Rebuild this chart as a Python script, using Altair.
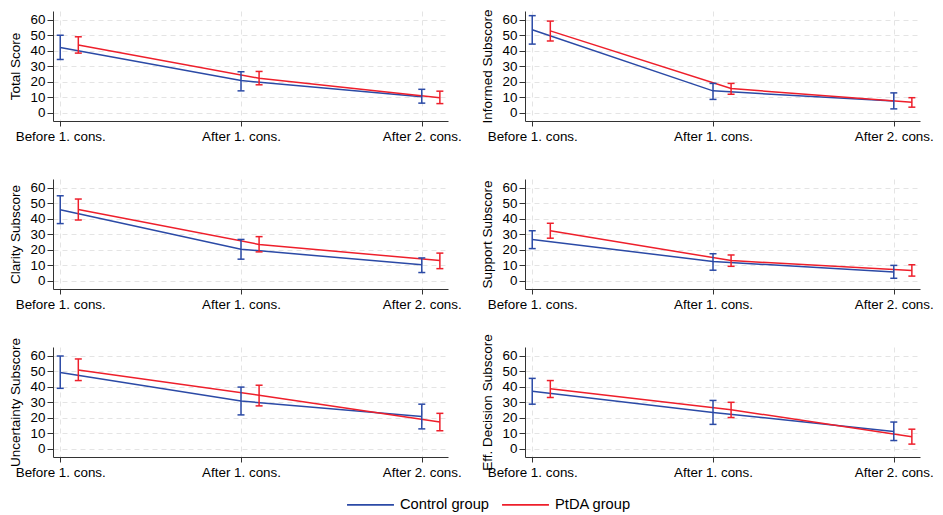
import altair as alt
import pandas as pd

# ---- data ----
panels = ["Total Score", "Informed Subscore", "Clarity Subscore",
          "Support Subscore", "Uncertainty Subscore", "Eff. Decision Subscore"]
groups = ["Control group", "PtDA group"]
time_labels = ["Before 1. cons.", "After 1. cons.", "After 2. cons."]
y_ticks = [0, 10, 20, 30, 40, 50, 60]

control_mean = [[42.1, 20.8, 10.4], [53.5, 14.2, 7.6], [45.8, 20.4, 10.4],
                [26.7, 12.5, 5.8], [49.2, 30.8, 20.8], [37.1, 23.5, 11.2]]
control_lo = [[34.4, 14.2, 6.3], [44.3, 8.7, 2.6], [36.9, 14.0, 5.4],
              [20.8, 6.9, 1.7], [39.0, 21.9, 12.9], [28.8, 15.8, 5.4]]
control_hi = [[50.0, 26.5, 15.2], [62.6, 19.0, 12.9], [54.8, 26.7, 14.8],
              [32.3, 17.5, 10.0], [59.8, 39.8, 28.8], [45.4, 31.2, 17.3]]

ptda_mean = [[43.7, 22.3, 9.8], [52.8, 15.7, 6.8], [46.0, 23.5, 13.1],
             [32.3, 13.1, 6.7], [50.8, 34.6, 17.3], [38.7, 25.2, 7.9]]
ptda_lo = [[38.5, 18.1, 6.0], [46.3, 12.0, 3.7], [39.2, 18.7, 7.9],
           [27.5, 9.4, 3.1], [44.0, 27.7, 11.7], [33.1, 20.2, 3.1]]
ptda_hi = [[49.0, 26.7, 14.0], [59.1, 19.0, 9.8], [52.7, 28.5, 17.9],
           [37.1, 16.7, 10.4], [57.9, 41.0, 22.9], [44.0, 30.0, 12.7]]

colors = ["#2b4aa6", "#ee1f2b"]
dodge = [0.0, 0.1]

rows = []
for p, name in enumerate(panels):
    for g, (m, lo, hi) in enumerate([(control_mean, control_lo, control_hi),
                                     (ptda_mean, ptda_lo, ptda_hi)]):
        for t in range(3):
            rows.append({"panel": name, "group": groups[g], "t": t + dodge[g],
                         "mean": m[p][t], "lo": lo[p][t], "hi": hi[p][t]})
df = pd.DataFrame(rows)

FONT = "Liberation Sans"
label_expr = "[" + ",".join("'%s'" % s for s in time_labels) + "][datum.value]"

xscale = alt.Scale(domain=[-0.04, 2.145], nice=False, zero=False)
yscale = alt.Scale(domain=[-5.2, 65.6], nice=False, zero=False)
cscale = alt.Scale(domain=groups, range=colors)

W, H = 395, 110

legend = alt.Legend(title=None, orient="none", legendX=293, legendY=469,
                    direction="horizontal", padding=0,
                    symbolType="stroke", symbolSize=2200,
                    symbolStrokeWidth=1.8,
                    labelFontSize=14.7, labelFont=FONT,
                    labelColor="#000000",
                    labelOffset=5, columnPadding=9)


def panel(name):
    base = alt.Chart(df[df.panel == name])
    x_axis = alt.Axis(values=[0, 1, 2], labelExpr=label_expr, title=None,
                      grid=True, tickSize=5, labelPadding=3,
                      labelOverlap=False)
    y_axis = alt.Axis(values=y_ticks, title=name, tickCount=7,
                      grid=True, tickSize=6, labelPadding=2, titlePadding=8,
                      labelOverlap=False)
    x = alt.X("t:Q", scale=xscale, axis=x_axis)
    color = alt.Color("group:N", scale=cscale, legend=legend)

    def y(field):
        return alt.Y(field, type="quantitative", scale=yscale, axis=y_axis)

    line = base.mark_line(strokeWidth=1.5).encode(
        x=x, y=y("mean"), color=color)
    bar = base.mark_rule(strokeWidth=1.5).encode(
        x=x, y=y("lo"), y2="hi:Q", color=color)
    cap_hi = base.mark_rule(strokeWidth=1.5, xOffset=-3.5, x2Offset=3.5).encode(
        x=x, x2="t:Q", y=y("hi"), color=color)
    cap_lo = base.mark_rule(strokeWidth=1.5, xOffset=-3.5, x2Offset=3.5).encode(
        x=x, x2="t:Q", y=y("lo"), color=color)
    return alt.layer(line, bar, cap_hi, cap_lo).properties(width=W, height=H)


chart = alt.concat(*[panel(n) for n in panels], columns=2,
                   spacing={"row": 58, "column": 77}, bounds="flush").properties(
    padding={"left": 0, "top": 0, "right": 0, "bottom": 0}
).configure_view(stroke=None).configure_axis(
    labelFont=FONT, titleFont=FONT, labelFontSize=13.4, titleFontSize=13.5,
    titleFontWeight="normal", labelColor="#000000", titleColor="#000000",
    domainColor="#333333", tickColor="#333333", domainWidth=1, tickWidth=1,
    gridColor="#e4e4e4", gridDash=[5, 4], gridWidth=1
)

chart.save("out.html", embed_options={"renderer": "svg", "actions": False})
